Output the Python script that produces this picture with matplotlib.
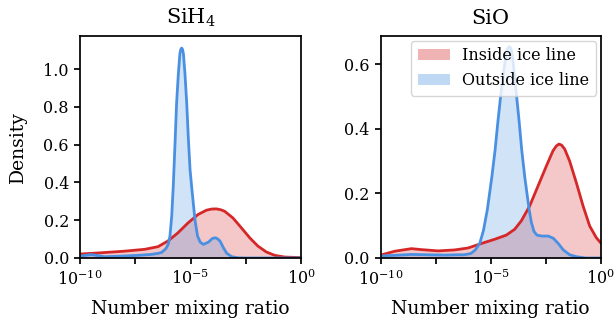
import matplotlib
matplotlib.use("Agg")
import matplotlib.pyplot as plt
from matplotlib.patches import Patch

plt.rcParams['font.family'] = ['DejaVu Serif']
plt.rcParams['mathtext.fontset'] = 'dejavuserif'

# log10(number mixing ratio) grid points and densities
sih4_out_x = [-10.0, -9.49, -8.88, -8.13, -7.38, -6.77, -6.45, -6.30, -6.11, -6.00, -5.93,
              -5.85, -5.78, -5.70, -5.63, -5.55, -5.48, -5.44, -5.40, -5.36, -5.32, -5.25,
              -5.17, -5.10, -5.02, -4.95, -4.89, -4.79, -4.68, -4.56, -4.42, -4.19, -4.00,
              -3.86, -3.76, -3.66, -3.51, -3.36, -3.14, -2.84, -2.5, 0.0]
sih4_out_y = [0.010, 0.018, 0.007, 0.010, 0.014, 0.019, 0.025, 0.030, 0.050, 0.075, 0.116,
              0.221, 0.380, 0.607, 0.818, 0.975, 1.081, 1.104, 1.111, 1.104, 1.081, 0.975,
              0.818, 0.640, 0.467, 0.380, 0.309, 0.195, 0.116, 0.084, 0.072, 0.084, 0.104,
              0.107, 0.100, 0.089, 0.054, 0.025, 0.007, 0.001, 0.0, 0.0]

sih4_in_x = [-10.0, -9.0, -8.0, -7.07, -6.47, -6.02, -5.57, -5.11, -4.66, -4.28, -4.05,
             -3.83, -3.62, -3.45, -3.08, -2.70, -2.32, -1.95, -1.57, -1.19, -0.74, 0.0]
sih4_in_y = [0.021, 0.028, 0.036, 0.046, 0.060, 0.090, 0.133, 0.186, 0.230, 0.253, 0.259,
             0.260, 0.255, 0.247, 0.212, 0.160, 0.107, 0.063, 0.032, 0.014, 0.005, 0.002]

sio_out_x = [-10.0, -8.6, -7.09, -6.48, -6.2, -5.9, -5.7, -5.5, -5.33, -5.155, -4.95,
             -4.80, -4.68, -4.55, -4.42, -4.29, -4.22, -4.155, -4.09, -4.03, -3.93, -3.82,
             -3.70, -3.59, -3.45, -3.25, -3.15, -3.03, -2.90, -2.68, -2.38, -2.15, -1.93,
             -1.70, -1.41, -1.10, -0.7, 0.0]
sio_out_y = [0.006, 0.011, 0.009, 0.010, 0.010, 0.014, 0.025, 0.045, 0.085, 0.149, 0.250,
             0.335, 0.418, 0.500, 0.573, 0.635, 0.650, 0.655, 0.650, 0.635, 0.573, 0.500,
             0.418, 0.335, 0.250, 0.149, 0.110, 0.082, 0.071, 0.068, 0.068, 0.061, 0.045,
             0.025, 0.010, 0.004, 0.0, 0.0]

sio_in_x = [-10.0, -9.36, -8.6, -8.15, -7.39, -6.64, -6.03, -5.42, -4.82, -4.29, -3.91,
            -3.61, -3.23, -2.85, -2.47, -2.17, -2.02, -1.90, -1.78, -1.64, -1.41, -1.11,
            -0.80, -0.50, -0.20, 0.0]
sio_in_y = [0.009, 0.021, 0.029, 0.026, 0.022, 0.025, 0.031, 0.045, 0.058, 0.071, 0.089,
            0.115, 0.161, 0.223, 0.285, 0.332, 0.347, 0.353, 0.350, 0.338, 0.300, 0.234,
            0.161, 0.099, 0.063, 0.047]

titles = ['SiH$_4$', 'SiO']
legend_labels = ['Inside ice line', 'Outside ice line']
xtick_pos = [-10, -7.5, -5, -2.5, 0]
xtick_labels = ['$10^{-10}$', '', '$10^{-5}$', '', '$10^{0}$']

red = '#d62728'
blue = '#4a90e2'

fig = plt.figure(figsize=(6.16, 3.24), dpi=100)
ax1 = fig.add_axes([80/616, 1-258/324, 221/616, 222/324])
ax2 = fig.add_axes([380.7/616, 1-258/324, 220/616, 222/324])

panels = [(ax1, sih4_in_x, sih4_in_y, sih4_out_x, sih4_out_y, 1.175, [0, 0.2, 0.4, 0.6, 0.8, 1.0]),
          (ax2, sio_in_x, sio_in_y, sio_out_x, sio_out_y, 0.688, [0, 0.2, 0.4, 0.6])]

for i, (ax, ix, iy, ox, oy, ytop, yt) in enumerate(panels):
    ax.fill_between(ix, iy, 0, color=red, alpha=0.25, linewidth=0)
    ax.plot(ix, iy, color=red, lw=2, solid_joinstyle='round')
    ax.fill_between(ox, oy, 0, color=blue, alpha=0.25, linewidth=0)
    ax.plot(ox, oy, color=blue, lw=2, solid_joinstyle='round')
    ax.set_xlim(-10, 0)
    ax.set_ylim(0, ytop)
    ax.set_xticks(xtick_pos)
    ax.set_xticklabels(xtick_labels)
    ax.set_yticks(yt)
    ax.set_yticklabels([f'{v:.1f}' for v in yt])
    ax.tick_params(labelsize=11.5, width=1.25, length=4.5)
    for s in ax.spines.values():
        s.set_linewidth(1.25)
    ax.set_title(titles[i], fontsize=15, pad=9)
    ax.set_xlabel('Number mixing ratio', fontsize=13.5, labelpad=8)

ax1.set_ylabel('Density', fontsize=13.5, labelpad=12)

handles = [Patch(facecolor=red, alpha=0.35, edgecolor='none'),
           Patch(facecolor=blue, alpha=0.35, edgecolor='none')]
ax2.legend(handles, legend_labels, loc='upper right', fontsize=11.5,
           borderaxespad=0.3, handlelength=2.0)

fig.savefig('out.png', dpi=100)
